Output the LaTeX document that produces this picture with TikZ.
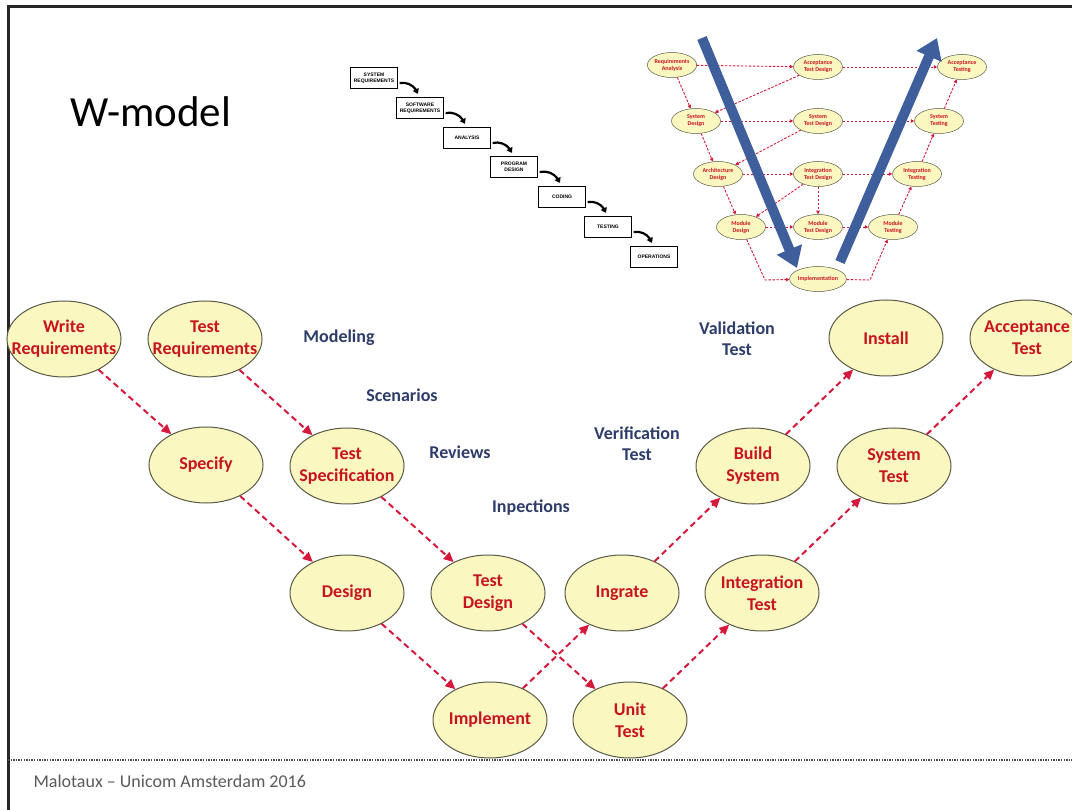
\documentclass[tikz,border=0pt]{standalone}
\usepackage{fontspec}
\setmainfont{Carlito}
\newfontfamily\wffont{Liberation Sans}
\usetikzlibrary{shapes.geometric,arrows.meta,bending}
\definecolor{ellfill}{RGB}{250,247,192}
\definecolor{ellline}{RGB}{90,90,70}
\definecolor{redtext}{RGB}{200,20,30}
\definecolor{arrowred}{RGB}{212,25,60}
\definecolor{bluetext}{RGB}{45,60,105}
\definecolor{vblue}{RGB}{62,95,155}
\definecolor{footgray}{RGB}{90,90,90}
\begin{document}
\begin{tikzpicture}[x=1pt,y=-1pt,
 ell/.style={ellipse,draw=ellline,line width=1pt,fill=ellfill,minimum width=114pt,minimum height=76pt,inner sep=0pt},
 etext/.style={text=redtext,font=\fontsize{18}{22}\selectfont\bfseries,align=center,inner sep=0pt},
 rarrow/.style={draw=arrowred,line width=2pt,dash pattern=on 6pt off 4pt,-{Triangle[length=10pt,width=9pt]}},
 blab/.style={text=bluetext,font=\fontsize{18}{21}\selectfont\bfseries,align=center,inner sep=0pt},
 wfbox/.style={draw,line width=1.2pt,minimum width=47pt,minimum height=21pt,inner sep=0pt,font=\wffont\fontsize{5}{5.8}\selectfont\bfseries,align=center},
 wfarrow/.style={line width=2.2pt,-{Triangle[length=5pt,width=6.5pt]},bend left=40},
 vell/.style={ellipse,draw=ellline,line width=0.5pt,fill=ellfill,minimum width=49pt,minimum height=25pt,inner sep=0pt,text=redtext,font=\fontsize{6}{7}\selectfont\bfseries,align=center},
 varrow/.style={draw=arrowred,line width=0.9pt,dash pattern=on 2.5pt off 1.5pt,-{Triangle[length=3.5pt,width=3.5pt]}},
 bigarrow/.style={draw=vblue,line width=10pt,-{Triangle[length=20pt,width=26pt]}},
 border/.style={line width=3pt,draw=black!85}
]
\useasboundingbox (0,0) rectangle (1072,810);
% frame
\coordinate (tl) at (8,7);
\coordinate (tr) at (1072,7);
\coordinate (bl) at (8,810);
\draw[border] (tr) -- (tl) -- (bl);
\coordinate (dl) at (8,760);
\coordinate (dr) at (1072,760);
\draw[draw=black!70,line width=1.3pt,dash pattern=on 1.3pt off 1.3pt] (dl) -- (dr);

% title and footer
\node[font=\fontsize{43}{50}\selectfont,text=black] (title) at (151,112) {W-model};
\node[anchor=west,text=footgray,font=\fontsize{18}{21}\selectfont] (foot) at (30,781) {Malotaux – Unicom Amsterdam 2016};

% waterfall
\node[wfbox] (w1) at (374,78) {SYSTEM\\REQUIREMENTS};
\node[wfbox] (w2) at (420,108) {SOFTWARE\\REQUIREMENTS};
\node[wfbox] (w3) at (467,138) {ANALYSIS};
\node[wfbox] (w4) at (514,167) {PROGRAM\\DESIGN};
\node[wfbox] (w5) at (562,197) {CODING};
\node[wfbox] (w6) at (608,227) {TESTING};
\node[wfbox] (w7) at (654,257) {OPERATIONS};
\foreach \a/\b in {w1/w2,w2/w3,w3/w4,w4/w5,w5/w6,w6/w7}
  \draw[wfarrow] ([xshift=1.5pt,yshift=-5pt]\a.east) to ([xshift=-2pt,yshift=3pt]\b.north);

% V-model
\node[vell] (ra) at (672,65) {Requirements\\Analysis};
\node[vell] (atd) at (818,67) {Acceptance\\Test Design};
\node[vell] (at) at (962,67) {Acceptance\\Testing};
\node[vell] (sd) at (696,121) {System\\Design};
\node[vell] (std) at (818,121) {System\\Test Design};
\node[vell] (st) at (939,121) {System\\Testing};
\node[vell] (ad) at (718,174) {Architecture\\Design};
\node[vell] (itd) at (818,174) {Integration\\Test Design};
\node[vell] (it) at (917,174) {Integration\\Testing};
\node[vell] (md) at (741,227) {Module\\Design};
\node[vell] (mtd) at (818,227) {Module\\Test Design};
\node[vell] (mt) at (893,227) {Module\\Testing};
\node[vell] (im) at (818,279) {Implementation};
\foreach \a/\b in {ra/atd,atd/at,ra/sd,atd/sd,sd/std,std/st,st/at,sd/ad,std/ad,ad/itd,itd/it,it/st,ad/md,itd/md,md/mtd,mtd/mt,itd/mtd,mt/it}
  \draw[varrow] (\a) -- (\b);
\coordinate (c1) at (765,280);
\coordinate (c2) at (870,280);
\draw[varrow] (md) -- (c1) -- (im);
\draw[varrow] (im) -- (c2) -- (mt);
\coordinate (ba1) at (702,38);
\coordinate (ba2) at (797,268);
\coordinate (ba3) at (840,262);
\coordinate (ba4) at (937,38);
\draw[bigarrow] (ba1) -- (ba2);
\draw[bigarrow] (ba3) -- (ba4);

% W-model main ellipses
\node[ell] (wr) at (64,339) {};
\node[etext] at (wr) {Write\\Requirements};
\node[ell] (tr) at (205,339) {};
\node[etext] at (tr) {Test\\Requirements};
\node[ell] (sp) at (206,465) {};
\node[etext] at (sp) {Specify};
\node[ell] (ts) at (347,466) {};
\node[etext] at (ts) {Test\\Specification};
\node[ell] (de) at (347,593) {};
\node[etext] at (de) {Design};
\node[ell] (td) at (488,593) {};
\node[etext] at (td) {Test\\Design};
\node[ell] (ip) at (490,720) {};
\node[etext] at (ip) {Implement};
\node[ell] (ut) at (630,720) {};
\node[etext] at (ut) {Unit\\Test};
\node[ell] (ig) at (622,593) {};
\node[etext] at (ig) {Ingrate};
\node[ell] (itt) at (762,593) {};
\node[etext] at (itt) {Integration\\Test};
\node[ell] (bs) at (753,466) {};
\node[etext] at (bs) {Build\\System};
\node[ell] (syt) at (894,466) {};
\node[etext] at (syt) {System\\Test};
\node[ell] (in) at (886,338) {};
\node[etext] at (in) {Install};
\node[ell] (act) at (1027,338) {};
\node[etext] at (act) {Acceptance\\Test};

\foreach \a/\b in {wr/sp,tr/ts,sp/de,ts/td,de/ip,td/ut,ip/ig,ut/itt,ig/bs,itt/syt,bs/in,syt/act}
  \draw[rarrow] (\a) -- (\b);

% blue labels
\node[blab] (l1) at (339,338) {Modeling};
\node[blab] (l2) at (402,395) {Scenarios};
\node[blab] (l3) at (460,452) {Reviews};
\node[blab] (l4) at (531,508) {Inpections};
\node[blab] (l5) at (737,339) {Validation\\Test};
\node[blab] (l6) at (637,444) {Verification\\Test};
\end{tikzpicture}
\end{document}
